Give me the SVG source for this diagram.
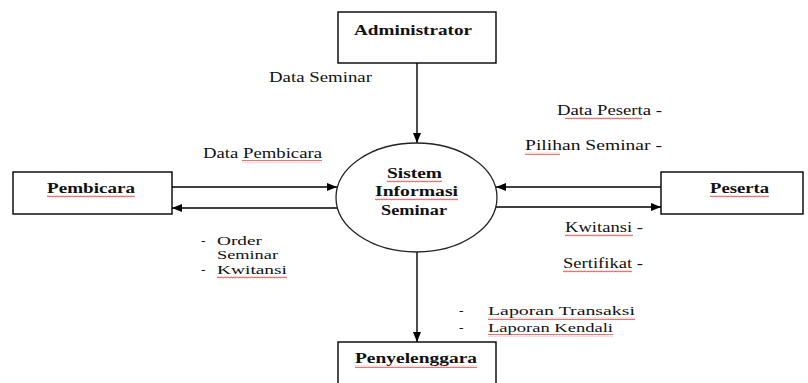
<svg xmlns="http://www.w3.org/2000/svg" width="808" height="383" viewBox="0 0 808 383">
<style>
.box{fill:#fff;stroke:#000;stroke-width:1.4}
.proc{fill:#fff;stroke:#222;stroke-width:1.3}
.ln{stroke:#000;stroke-width:1.4;fill:none}
text{font-family:'Liberation Serif','DejaVu Serif',serif;font-size:15px;fill:#111}
.b{font-weight:bold}
.s{font-size:13.5px}
.sq{fill:url(#wave)}
</style>
<defs>
<marker id="ah" viewBox="0 0 10 8" refX="10" refY="4" markerWidth="10" markerHeight="8" markerUnits="userSpaceOnUse" orient="auto">
<path d="M0 0 L10 4 L0 8 Z" fill="#000"/>
</marker>
<pattern id="wave" x="0" y="0" width="3" height="3" patternUnits="userSpaceOnUse">
<path d="M0 2.2 L0.75 0.8 L1.5 2.2 L2.25 0.8 L3 2.2" stroke="#d04040" stroke-width="0.7" fill="none"/>
</pattern>
</defs>
<rect width="808" height="383" fill="#fff"/>

<g id="connectors">
<line class="ln" x1="417" y1="63" x2="417" y2="143" marker-end="url(#ah)"/>
<line class="ln" x1="172" y1="187" x2="337" y2="187" marker-end="url(#ah)"/>
<line class="ln" x1="338" y1="208" x2="172" y2="208" marker-end="url(#ah)"/>
<line class="ln" x1="661" y1="187" x2="496" y2="187" marker-end="url(#ah)"/>
<line class="ln" x1="495" y1="207" x2="661" y2="207" marker-end="url(#ah)"/>
<line class="ln" x1="417" y1="252" x2="417" y2="342" marker-end="url(#ah)"/>
</g>

<g id="labels">
<text x="269" y="82" textLength="103" lengthAdjust="spacingAndGlyphs">Data Seminar</text>
<text x="203" y="158" textLength="119" lengthAdjust="spacingAndGlyphs">Data Pembicara</text>
<rect class="sq" x="242" y="160" width="80" height="3"/>
<text class="s" x="201" y="245">-</text>
<text class="s" x="217" y="245" textLength="45" lengthAdjust="spacingAndGlyphs">Order</text>
<text class="s" x="217" y="259" textLength="61" lengthAdjust="spacingAndGlyphs">Seminar</text>
<text class="s" x="201" y="274">-</text>
<text class="s" x="217" y="274" textLength="70" lengthAdjust="spacingAndGlyphs">Kwitansi</text>
<rect class="sq" x="217" y="276" width="70" height="3"/>
<text x="557" y="115" textLength="105" lengthAdjust="spacingAndGlyphs">Data Peserta -</text>
<rect class="sq" x="565" y="117" width="77" height="3"/>
<text x="525" y="150" textLength="137" lengthAdjust="spacingAndGlyphs">Pilihan Seminar -</text>
<rect class="sq" x="525" y="152" width="35" height="3"/>
<text x="565" y="232" textLength="78" lengthAdjust="spacingAndGlyphs">Kwitansi -</text>
<rect class="sq" x="565" y="234" width="68" height="3"/>
<text x="563" y="268" textLength="80" lengthAdjust="spacingAndGlyphs">Sertifikat -</text>
<rect class="sq" x="563" y="270" width="69" height="3"/>
<text class="s" x="459" y="315">-</text>
<text class="s" x="488" y="315" textLength="147" lengthAdjust="spacingAndGlyphs">Laporan  Transaksi</text>
<rect class="sq" x="488" y="317" width="147" height="3"/>
<text class="s" x="459" y="332">-</text>
<text class="s" x="488" y="332" textLength="125" lengthAdjust="spacingAndGlyphs">Laporan Kendali</text>
<rect class="sq" x="488" y="334" width="125" height="3"/>
</g>

<g id="administrator">
<rect class="box" x="338" y="12" width="158" height="51"/>
<text class="b" x="354" y="35" textLength="118" lengthAdjust="spacingAndGlyphs">Administrator</text>
</g>

<g id="pembicara">
<rect class="box" x="13" y="172" width="159" height="42"/>
<text class="b" x="47" y="193" textLength="88" lengthAdjust="spacingAndGlyphs">Pembicara</text>
<rect class="sq" x="47" y="195" width="88" height="3"/>
</g>

<g id="sistem">
<ellipse class="proc" cx="416.5" cy="197.5" rx="80.5" ry="54.5"/>
<text class="b" x="387" y="178" textLength="55" lengthAdjust="spacingAndGlyphs">Sistem</text>
<rect class="sq" x="387" y="180" width="55" height="3"/>
<text class="b" x="375" y="196" textLength="83" lengthAdjust="spacingAndGlyphs">Informasi</text>
<rect class="sq" x="375" y="198" width="83" height="3"/>
<text class="b" x="381" y="215" textLength="66" lengthAdjust="spacingAndGlyphs">Seminar</text>
</g>

<g id="peserta">
<rect class="box" x="661" y="172" width="142" height="42"/>
<text class="b" x="710" y="193" textLength="59" lengthAdjust="spacingAndGlyphs">Peserta</text>
<rect class="sq" x="710" y="195" width="59" height="3"/>
</g>

<g id="penyelenggara">
<rect class="box" x="338" y="342" width="158" height="50"/>
<text class="b" x="355" y="363" textLength="122" lengthAdjust="spacingAndGlyphs">Penyelenggara</text>
<rect class="sq" x="355" y="365" width="122" height="3"/>
</g>
</svg>
